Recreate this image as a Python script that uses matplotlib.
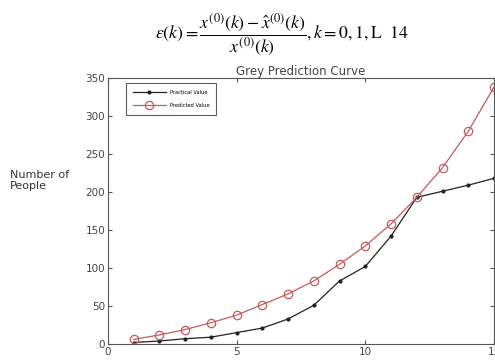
import matplotlib.pyplot as plt

plt.rcParams['mathtext.fontset'] = 'stix'

years = [1, 2, 3, 4, 5, 6, 7, 8, 9, 10, 11, 12, 13, 14, 15]
practical = [2, 4, 7, 9, 15, 21, 33, 51, 83, 102, 142, 193, 201, 209, 218]
predicted = [6, 12, 19, 28, 38, 52, 66, 83, 105, 129, 158, 193, 232, 280, 338]
x_ticks = [0, 5, 10, 15]
y_ticks = [0, 50, 100, 150, 200, 250, 300, 350]

fig = plt.figure(figsize=(4.95, 3.61), dpi=100)
ax = fig.add_axes([0.218, 0.047, 0.78, 0.737])

ax.plot(years, practical, color='#222222', lw=0.9, marker='.', ms=4,
        label='Practical Value')
ax.plot(years, predicted, color='#c85a5a', lw=0.9, marker='o', ms=6,
        mfc='none', mew=0.9, label='Predicted Value')

ax.set_xlim(0, 15)
ax.set_ylim(0, 350)
ax.set_xticks(x_ticks)
ax.set_yticks(y_ticks)
ax.tick_params(direction='in', top=True, right=True, length=3,
               labelsize=7.5, labelcolor='#444444', color='#555555', pad=2)
for s in ax.spines.values():
    s.set_color('#555555')
    s.set_linewidth(0.8)

ax.set_title('Grey Prediction Curve', fontsize=8.5, color='#444444', pad=2)
fig.text(0.02, 0.5, 'Number of\nPeople', fontsize=8, color='#333333',
         ha='left', va='center', linespacing=1.2)

leg = ax.legend(loc='upper left', bbox_to_anchor=(0.04, 0.99), fontsize=3.7,
                frameon=True, fancybox=False, edgecolor='#333333',
                handlelength=6.5, borderpad=1.3, labelspacing=1.6)
leg.get_frame().set_linewidth(0.8)

fig.text(0.57, 0.905,
         r'$\varepsilon(k)=\dfrac{x^{(0)}(k)-\hat{x}^{(0)}(k)}{x^{(0)}(k)}, k=0,1,\mathrm{L}\ \ 14$',
         fontsize=12.8, ha='center', va='center')

fig.savefig('out.png', dpi=100)
